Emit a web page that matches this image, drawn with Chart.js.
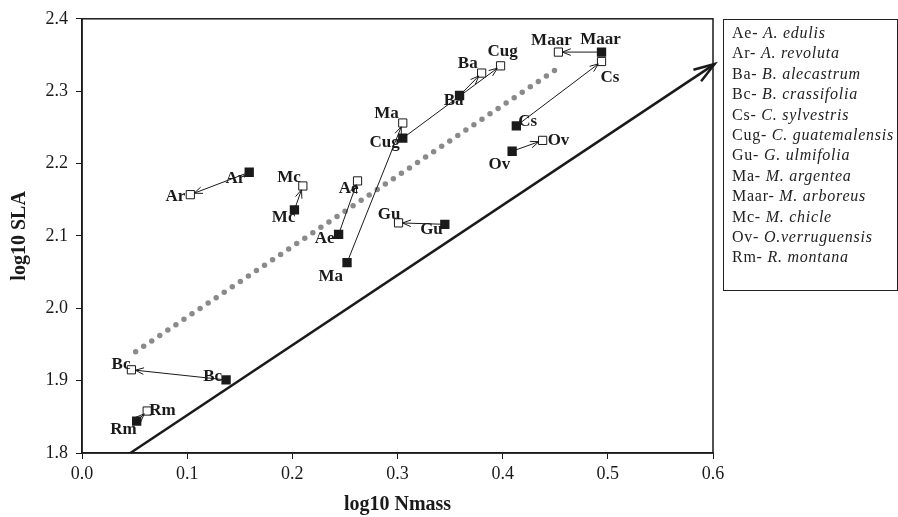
<!DOCTYPE html>
<html>
<head>
<meta charset="utf-8">
<script src="https://cdn.jsdelivr.net/npm/chart.js@4/dist/chart.umd.min.js"></script>
<style>
  html, body { margin: 0; padding: 0; background: #fff; }
  #wrap { position: relative; width: 898px; height: 517px; }
  #key {
    position: absolute; left: 723px; top: 19px; width: 165px; height: 267px;
    border: 1px solid #222; padding: 3px 0 0 8px;
    font-family: 'Liberation Serif', serif; font-size: 16px; letter-spacing: 0.75px;
    line-height: 20.4px; color: #222;
  }
  #key div { white-space: nowrap; }
</style>
</head>
<body>
<div id="wrap">
  <canvas id="chart" width="898" height="517"></canvas>
  <div id="key"></div>
</div>
<script>
// species codes and the names shown in the key
const species = ['Ae', 'Ar', 'Ba', 'Bc', 'Cs', 'Cug', 'Gu', 'Ma', 'Maar', 'Mc', 'Ov', 'Rm'];
const speciesNames = ['A. edulis', 'A. revoluta', 'B. alecastrum', 'B. crassifolia', 'C. sylvestris',
  'C. guatemalensis', 'G. ulmifolia', 'M. argentea', 'M. arboreus', 'M. chicle', 'O.verruguensis', 'R. montana'];

// filled squares (start of each arrow)
const filledNmass = [0.244, 0.159, 0.359, 0.137, 0.413, 0.305, 0.345, 0.252, 0.494, 0.202, 0.409, 0.052];
const filledSLA = [2.102, 2.188, 2.294, 1.901, 2.252, 2.235, 2.116, 2.063, 2.354, 2.136, 2.217, 1.844];

// open squares (arrow heads)
const openNmass = [0.262, 0.103, 0.380, 0.047, 0.494, 0.398, 0.301, 0.305, 0.453, 0.210, 0.438, 0.062];
const openSLA = [2.176, 2.157, 2.325, 1.915, 2.341, 2.335, 2.118, 2.256, 2.354, 2.169, 2.232, 1.858];

// dotted grey line and the solid arrow line
const dottedNmass = [0.051, 0.456];
const dottedSLA = [1.940, 2.335];
const arrowNmass = [0.046, 0.600];
const arrowSLA = [1.800, 2.336];

const xTicks = [0, 0.1, 0.2, 0.3, 0.4, 0.5, 0.6];
const yTicks = [1.8, 1.9, 2.0, 2.1, 2.2, 2.3, 2.4];

// label placement: [dx, dy, align] relative to the square
const filledLabelPos = [
  [-4, 4, 'right'], [-4, 6, 'right'], [4, 5, 'right'], [-4, -3, 'right'], [2, -4, 'left'], [-3, 4, 'right'],
  [-2, 5, 'right'], [-4, 14, 'right'], [-1, -12, 'center'], [1, 8, 'right'], [-2, 13, 'right'], [0, 8, 'right'],
];
const openLabelPos = [
  [1, 8, 'right'], [-5, 2, 'right'], [-4, -9, 'right'], [-1, -5, 'right'], [-1, 16, 'left'], [2, -14, 'center'],
  [2, -8, 'right'], [-4, -9, 'right'], [-7, -11, 'center'], [-2, -8, 'right'], [5, 0, 'left'], [2, 0, 'left'],
];

const ink = '#1a1a1a';
const serif = "'Liberation Serif', 'Times New Roman', serif";

document.getElementById('key').innerHTML = species
  .map((code, i) => `<div>${code}- <i>${speciesNames[i]}</i></div>`)
  .join('');

function toPoints(xs, ys) {
  return xs.map((x, i) => ({ x, y: ys[i] }));
}

function drawHead(ctx, fromX, fromY, toX, toY, len, spread, back) {
  const ang = Math.atan2(toY - fromY, toX - fromX);
  const tipX = toX - Math.cos(ang) * back;
  const tipY = toY - Math.sin(ang) * back;
  ctx.beginPath();
  ctx.moveTo(tipX - len * Math.cos(ang - spread), tipY - len * Math.sin(ang - spread));
  ctx.lineTo(tipX, tipY);
  ctx.lineTo(tipX - len * Math.cos(ang + spread), tipY - len * Math.sin(ang + spread));
  ctx.stroke();
}

const arrowHeads = {
  id: 'arrowHeads',
  afterDatasetsDraw(chart) {
    const { ctx, scales } = chart;
    const x = scales.x;
    const y = scales.y;
    ctx.save();
    ctx.strokeStyle = ink;
    ctx.lineWidth = 1;
    species.forEach((s, i) => {
      drawHead(ctx,
        x.getPixelForValue(filledNmass[i]), y.getPixelForValue(filledSLA[i]),
        x.getPixelForValue(openNmass[i]), y.getPixelForValue(openSLA[i]),
        9, 0.38, 4);
    });
    ctx.lineWidth = 2.5;
    drawHead(ctx,
      x.getPixelForValue(arrowNmass[0]), y.getPixelForValue(arrowSLA[0]),
      x.getPixelForValue(arrowNmass[1]), y.getPixelForValue(arrowSLA[1]),
      22, 0.32, -2);
    ctx.restore();
  },
};

const pointLabels = {
  id: 'pointLabels',
  afterDatasetsDraw(chart) {
    const { ctx, scales } = chart;
    ctx.save();
    ctx.font = `bold 17px ${serif}`;
    ctx.fillStyle = ink;
    ctx.textBaseline = 'middle';
    const put = (xs, ys, pos) => {
      species.forEach((s, i) => {
        const [dx, dy, align] = pos[i];
        ctx.textAlign = align;
        ctx.fillText(s, scales.x.getPixelForValue(xs[i]) + dx, scales.y.getPixelForValue(ys[i]) + dy);
      });
    };
    put(filledNmass, filledSLA, filledLabelPos);
    put(openNmass, openSLA, openLabelPos);
    ctx.restore();
  },
};

const frame = {
  id: 'frame',
  afterDraw(chart) {
    const { ctx, chartArea: a } = chart;
    ctx.save();
    ctx.strokeStyle = ink;
    ctx.lineWidth = 1.5;
    ctx.strokeRect(a.left, a.top, a.right - a.left, a.bottom - a.top);
    ctx.restore();
  },
};

const pairLines = species.map((s, i) => ({
  type: 'line',
  data: [{ x: filledNmass[i], y: filledSLA[i] }, { x: openNmass[i], y: openSLA[i] }],
  borderColor: ink,
  borderWidth: 1,
  pointRadius: 0,
  order: 2,
}));

new Chart(document.getElementById('chart'), {
  type: 'scatter',
  data: {
    datasets: [
      {
        label: 'open',
        data: toPoints(openNmass, openSLA),
        pointStyle: 'rect',
        pointRadius: 5.8,
        pointBackgroundColor: '#fff',
        pointBorderColor: ink,
        pointBorderWidth: 1,
        order: 0,
      },
      {
        label: 'filled',
        data: toPoints(filledNmass, filledSLA),
        pointStyle: 'rect',
        pointRadius: 6.6,
        pointBackgroundColor: ink,
        pointBorderColor: ink,
        pointBorderWidth: 0,
        order: 1,
      },
      ...pairLines,
      {
        type: 'line',
        label: 'dotted',
        data: toPoints(dottedNmass, dottedSLA),
        borderColor: '#8a8a8a',
        borderWidth: 5.5,
        borderDash: [0, 9.7],
        borderCapStyle: 'round',
        pointRadius: 0,
        order: 3,
      },
      {
        type: 'line',
        label: 'arrow',
        data: toPoints(arrowNmass, arrowSLA),
        borderColor: ink,
        borderWidth: 2.5,
        pointRadius: 0,
        clip: false,
        order: 3,
      },
    ],
  },
  options: {
    responsive: false,
    animation: false,
    events: [],
    layout: { padding: { top: 15, right: 185, bottom: 0, left: 0 } },
    plugins: { legend: { display: false }, tooltip: { enabled: false } },
    scales: {
      x: {
        type: 'linear',
        min: 0,
        max: 0.6,
        afterBuildTicks: (s) => { s.ticks = xTicks.map((v) => ({ value: v })); },
        afterFit: (s) => { s.height = 64; },
        border: { color: ink, width: 1.5 },
        grid: { drawOnChartArea: false, tickLength: 6, color: ink },
        ticks: {
          color: ink, padding: 4, maxRotation: 0,
          font: { family: serif, size: 18 },
          callback: (v) => Number(v).toFixed(1),
        },
        title: {
          display: true, text: 'log10 Nmass', color: ink,
          font: { family: serif, size: 20, weight: 'bold' },
          padding: { top: 3, bottom: 0 },
        },
      },
      y: {
        type: 'linear',
        min: 1.8,
        max: 2.4,
        afterBuildTicks: (s) => { s.ticks = yTicks.map((v) => ({ value: v })); },
        afterFit: (s) => { s.width = 82; },
        border: { color: ink, width: 1.5 },
        grid: { drawOnChartArea: false, tickLength: 6, color: ink },
        ticks: {
          color: ink, padding: 8,
          font: { family: serif, size: 18 },
          callback: (v) => Number(v).toFixed(1),
        },
        title: {
          display: true, text: 'log10 SLA', color: ink,
          font: { family: serif, size: 20, weight: 'bold' },
          padding: { top: 8, bottom: 0 },
        },
      },
    },
  },
  plugins: [arrowHeads, pointLabels, frame],
});
</script>
</body>
</html>
